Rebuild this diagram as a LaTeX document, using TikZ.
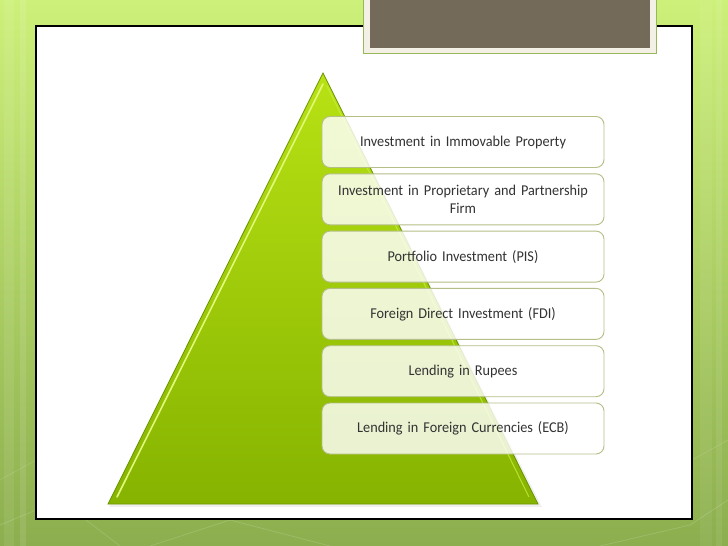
\documentclass[tikz,border=0pt]{standalone}
\usepackage{fontspec}
\setmainfont{Carlito}
\newfontfamily\boxfont[FakeStretch=0.95]{Carlito}
\begin{document}
\begin{tikzpicture}[x=1pt,y=-1pt,
  stepbox/.style={draw=boxline, line width=0.9pt, rounded corners=8pt, fill=white, fill opacity=0.82, text opacity=1,
    minimum width=282pt, minimum height=51pt, text width=275pt, align=center, inner sep=0pt,
    font=\boxfont\fontsize{15}{17.5}\selectfont, text=txt},
]
\definecolor{bgtop}{HTML}{CDF07A}
\definecolor{bgbot}{HTML}{8CAE4E}
\definecolor{tritop}{HTML}{B8E214}
\definecolor{tribot}{HTML}{86B300}
\definecolor{triedge}{HTML}{6A9400}
\definecolor{boxline}{HTML}{B4BE86}
\definecolor{txt}{HTML}{333333}
\definecolor{brownbox}{HTML}{746A5A}
\definecolor{creamframe}{HTML}{F3F1E6}
\definecolor{frameline}{HTML}{98B65A}
\useasboundingbox (0,0) rectangle (728,546);
% background
\shade[top color=bgtop, bottom color=bgbot] (0,0) rectangle (728,546);
\fill[white, opacity=0.08] (4,0) rectangle (14,546);
\fill[white, opacity=0.10] (20,0) rectangle (26,546);
\fill[white, opacity=0.06] (700,0) rectangle (712,546);
\fill[white, opacity=0.08] (716,0) rectangle (722,546);
\draw[white, opacity=0.15, line width=0.8pt] (0,525) -- (60,500) -- (120,546);
\draw[white, opacity=0.15, line width=0.8pt] (150,546) -- (230,520) -- (330,546);
\draw[white, opacity=0.15, line width=0.8pt] (600,546) -- (690,525) -- (728,500);
\draw[white, opacity=0.12, line width=0.8pt] (0,480) -- (36,460);
\draw[white, opacity=0.12, line width=0.8pt] (692,460) -- (728,440);
% white slide area
\draw[black, line width=1.1pt, fill=white] (36,26) rectangle (692,519);
% top title box
\draw[frameline, line width=0.6pt, fill=creamframe] (363,-2) rectangle (656,53);
\fill[brownbox] (370,-2) rectangle (650,48);
% triangle
\fill[black, opacity=0.06] (324,75) -- (542,507) -- (109,507) -- cycle;
\shade[top color=tritop, bottom color=tribot, draw=triedge, line width=0.8pt] (323,73) -- (538,504) -- (108,504) -- cycle;
\draw[line width=1.6pt, draw={rgb,255:red,226;green,248;blue,120}, line cap=round] (323,84) -- (117,497);
\draw[line width=1.0pt, draw={rgb,255:red,200;green,236;blue,60}, opacity=0.8] (327,86) -- (529,497);
% boxes
\node[stepbox] (b1) at (463,142) {Investment in Immovable Property};
\node[stepbox] (b2) at (463,199.3) {Investment in Proprietary and Partnership\\Firm};
\node[stepbox] (b3) at (463,256.6) {Portfolio Investment (PIS)};
\node[stepbox] (b4) at (463,313.9) {Foreign Direct Investment (FDI)};
\node[stepbox] (b5) at (463,371.2) {Lending in Rupees};
\node[stepbox] (b6) at (463,428.5) {Lending in Foreign Currencies (ECB)};
\end{tikzpicture}
\end{document}
